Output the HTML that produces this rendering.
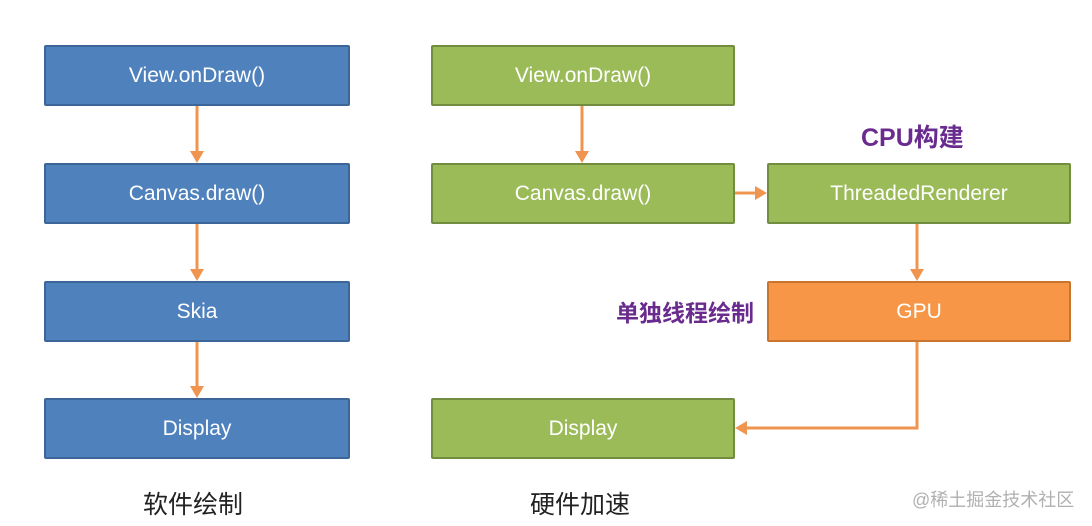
<!DOCTYPE html>
<html><head><meta charset="utf-8"><style>
html,body{margin:0;padding:0;background:#fff;}
body{width:1092px;height:526px;position:relative;overflow:hidden;font-family:"Liberation Sans","Noto Sans CJK SC",sans-serif;}
.b{position:absolute;box-sizing:border-box;display:flex;align-items:center;justify-content:center;color:#fff;font-size:21px;border-radius:2px;}
.bl{background:#4f81bd;border:2px solid #3b6697;}
.gr{background:#9bbb59;border:2px solid #728c40;}
.or{background:#f79646;border:2px solid #c8752f;}
.t{position:absolute;white-space:nowrap;}
</style></head><body>
<div class="b bl" style="left:44px;top:45px;width:306px;height:61px">View.onDraw()</div>
<div class="b bl" style="left:44px;top:163px;width:306px;height:61px">Canvas.draw()</div>
<div class="b bl" style="left:44px;top:281px;width:306px;height:61px">Skia</div>
<div class="b bl" style="left:44px;top:398px;width:306px;height:61px">Display</div>

<div class="b gr" style="left:431px;top:45px;width:304px;height:61px">View.onDraw()</div>
<div class="b gr" style="left:431px;top:163px;width:304px;height:61px">Canvas.draw()</div>
<div class="b gr" style="left:767px;top:163px;width:304px;height:61px">ThreadedRenderer</div>
<div class="b or" style="left:767px;top:281px;width:304px;height:61px">GPU</div>
<div class="b gr" style="left:431px;top:398px;width:304px;height:61px">Display</div>

<svg width="1092" height="526" style="position:absolute;left:0;top:0">
<g stroke="#ef9550" stroke-width="3" fill="none">
<line x1="197" y1="106" x2="197" y2="158"/>
<line x1="197" y1="224" x2="197" y2="276"/>
<line x1="197" y1="342" x2="197" y2="393"/>
<line x1="582" y1="106" x2="582" y2="158"/>
<line x1="735" y1="193" x2="762" y2="193"/>
<line x1="917" y1="224" x2="917" y2="276"/>
<polyline points="917,342 917,428 740,428"/>
</g>
<g fill="#ef9550">
<polygon points="190,151 204,151 197,163"/>
<polygon points="190,269 204,269 197,281"/>
<polygon points="190,386 204,386 197,398"/>
<polygon points="575,151 589,151 582,163"/>
<polygon points="755,186 755,200 767,193"/>
<polygon points="910,269 924,269 917,281"/>
<polygon points="747,421 747,435 735,428"/>
</g>
</svg>

<div class="t" style="left:861px;top:118px;font-size:25px;font-weight:bold;color:#6a2b8f;">CPU构建</div>
<div class="t" style="left:616px;top:294px;font-size:23px;font-weight:bold;color:#6a2b8f;">单独线程绘制</div>
<div class="t" style="left:143px;top:485px;font-size:25px;color:#222;">软件绘制</div>
<div class="t" style="left:530px;top:485px;font-size:25px;color:#222;">硬件加速</div>
<div class="t" style="left:912px;top:486px;font-size:18px;color:#b0b0b0;">@稀土掘金技术社区</div>
</body></html>
